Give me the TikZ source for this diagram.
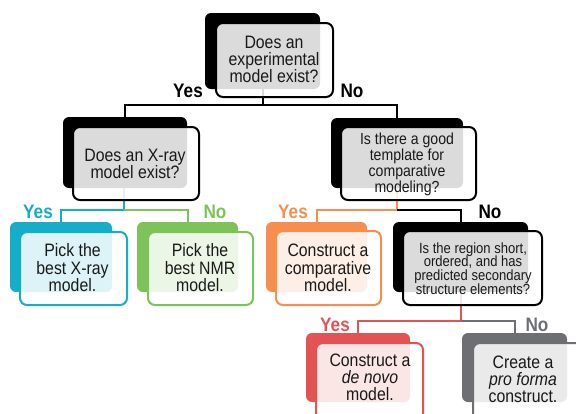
\documentclass[tikz,border=0pt]{standalone}
\usepackage{fontspec}
\setmainfont{Liberation Sans}
\newfontfamily\narrowsans[FakeStretch=0.88]{Liberation Sans}
\definecolor{ccyan}{RGB}{20,174,200}
\definecolor{cgreen}{RGB}{126,194,90}
\definecolor{corange}{RGB}{245,142,78}
\definecolor{cred}{RGB}{227,83,83}
\definecolor{cgray}{RGB}{110,111,115}
\definecolor{ctext}{RGB}{25,25,25}
\pgfdeclarelayer{bg}
\pgfsetlayers{bg,main}
\begin{document}
\begin{tikzpicture}[x=1pt,y=-1pt,
  back/.style={fill=#1, rounded corners=6pt, inner sep=0pt},
  front/.style={draw=#1, line width=2pt, fill=white, fill opacity=0.86, text opacity=1,
    rounded corners=7pt, inner sep=0pt},
  txt/.style={text=ctext, align=center, inner sep=0pt, font=\narrowsans\fontsize{18}{16.8}\selectfont},
  txtb/.style={text=ctext, align=center, inner sep=0pt, font=\narrowsans\fontsize{18}{17.5}\selectfont},
  small/.style={text=ctext, align=center, inner sep=0pt, font=\narrowsans\fontsize{16}{14.5}\selectfont},
  smaller/.style={text=ctext, align=center, inner sep=0pt, font=\narrowsans\fontsize{14.8}{13.8}\selectfont},
  conn/.style={line width=2pt},
  lbl/.style={font=\narrowsans\fontsize{19.5}{19}\selectfont\bfseries, inner sep=0pt}]
\useasboundingbox (0,0) rectangle (576,413);
\clip (0,0) rectangle (576,413);

% backs
\node[back=black, minimum width=115pt, minimum height=76pt] (bA) at (262.5,51) {};
\node[back=black, minimum width=124pt, minimum height=71pt] (bB) at (125,152.5) {};
\node[back=black, minimum width=132pt, minimum height=70pt] (bC) at (397,153) {};
\node[back=ccyan, minimum width=102pt, minimum height=70pt] (bD) at (61,257) {};
\node[back=cgreen, minimum width=101pt, minimum height=70pt] (bE) at (187.5,257) {};
\node[back=corange, minimum width=101pt, minimum height=70pt] (bF) at (316.5,257) {};
\node[back=black, minimum width=135pt, minimum height=70pt] (bG) at (460.5,257) {};
\node[back=cred, minimum width=104pt, minimum height=69pt] (bH) at (358,367.5) {};
\node[back=cgray, minimum width=105pt, minimum height=69pt] (bI) at (514.5,367.5) {};

% fronts and texts
\node[front=black, minimum width=117pt, minimum height=74pt] (fA) at (274.5,60) {};
\node[txt] (tA) at (274,59.5) {Does an\\experimental\\model exist?};
\node[front=black, minimum width=126pt, minimum height=73pt] (fB) at (136,163.5) {};
\node[txt] (tB) at (135,163.5) {Does an X-ray\\model exist?};
\node[front=black, minimum width=135pt, minimum height=73pt] (fC) at (408.5,163.5) {};
\node[small] (tC) at (407,164) {Is there a good\\template for\\comparative\\modeling?};
\node[front=ccyan, minimum width=107pt, minimum height=73pt] (fD) at (73.5,268.5) {};
\node[txtb] (tD) at (72.5,268) {Pick the\\best X-ray\\model.};
\node[front=cgreen, minimum width=105pt, minimum height=73pt] (fE) at (200.5,268.5) {};
\node[txtb] (tE) at (200,268) {Pick the\\best NMR\\model.};
\node[front=corange, minimum width=105pt, minimum height=74pt] (fF) at (328.5,268) {};
\node[txtb] (tF) at (328,268) {Construct a\\comparative\\model.};
\node[front=black, minimum width=139pt, minimum height=74pt] (fG) at (472.5,268) {};
\node[smaller] (tG) at (473,268.5) {Is the region short,\\ordered, and has\\predicted secondary\\structure elements?};
\node[front=cred, minimum width=107pt, minimum height=77pt] (fH) at (369.5,381.5) {};
\node[txt] (tH) at (370,377.5) {Construct a\\\textit{de novo}\\model.};
\node[front=cgray, minimum width=112pt, minimum height=77pt] (fI) at (529,381.5) {};
\node[txt] (tI) at (523,379) {Create a\\\textit{pro forma}\\construct.};

% junctions
\coordinate (jA) at (263,105);
\coordinate (jB) at (124,210);
\coordinate (jC) at (397,210);
\coordinate (jG) at (461,321);

\begin{pgfonlayer}{bg}
\draw[conn] (jA |- fA.center) -- (jA) -| (bB.north);
\draw[conn] (jA) -| (bC.north);
\draw[conn, ccyan] (jB |- fB.center) -- (jB) -| (bD.north);
\draw[conn, cgreen] (jB) -| (bE.north);
\draw[conn, corange] (jC |- fC.center) -- (jC) -| (bF.north);
\draw[conn] (jC) -| (bG.north);
\draw[conn, cred] (jG |- fG.center) -- (jG) -| (bH.north);
\draw[conn, cgray] (jG) -| (bI.north);
\end{pgfonlayer}

% labels
\node[lbl, text=black] (yA) at (188,91) {Yes};
\node[lbl, text=black] (nA) at (352,91) {No};
\node[lbl, text=ccyan] (yB) at (38,212) {Yes};
\node[lbl, text=cgreen] (nB) at (215,212) {No};
\node[lbl, text=corange] (yC) at (293,212) {Yes};
\node[lbl, text=black] (nC) at (490,212) {No};
\node[lbl, text=cred] (yG) at (335,325) {Yes};
\node[lbl, text=cgray] (nG) at (537,325) {No};
\end{tikzpicture}
\end{document}
